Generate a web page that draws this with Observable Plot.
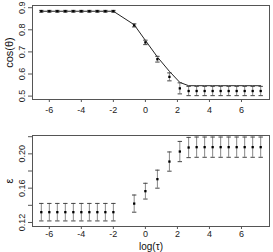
<!DOCTYPE html>
<html>
<head>
<meta charset="utf-8">
<script src="https://cdn.jsdelivr.net/npm/d3@7"></script>
<script src="https://cdn.jsdelivr.net/npm/@observablehq/plot@0.6"></script>
<style>
  html, body { margin: 0; padding: 0; background: #fff; }
  #top, #bottom { width: 273px; height: 126px; }
  svg { display: block; }
</style>
</head>
<body>
<div id="top"></div>
<div id="bottom"></div>
<script>
// log(τ) positions of the estimates
const logTau = [-6.5, -6, -5.5, -5, -4.5, -4, -3.5, -3, -2.5, -2,
  -0.7, 0, 0.75, 1.5, 2.15, 2.7, 3.2, 3.7, 4.2, 4.7, 5.2, 5.7, 6.2, 6.7, 7.2];

// cos(θ): estimate, error half-width, fitted curve
const cosMean = [0.884, 0.884, 0.884, 0.884, 0.884, 0.884, 0.884, 0.884, 0.884, 0.884,
  0.820, 0.743, 0.667, 0.587, 0.535, 0.523, 0.523, 0.523, 0.523, 0.523, 0.523, 0.523, 0.523, 0.523, 0.523];
const cosErr = [0.004, 0.004, 0.004, 0.004, 0.004, 0.004, 0.004, 0.004, 0.004, 0.004,
  0.007, 0.010, 0.013, 0.018, 0.025, 0.021, 0.021, 0.021, 0.021, 0.021, 0.021, 0.021, 0.021, 0.021, 0.021];
const cosFit = [0.884, 0.884, 0.884, 0.884, 0.884, 0.884, 0.884, 0.884, 0.884, 0.884,
  0.823, 0.752, 0.677, 0.612, 0.562, 0.547, 0.547, 0.547, 0.547, 0.547, 0.547, 0.547, 0.547, 0.547, 0.547];

// ε: estimate and error half-width
const epsMean = [0.132, 0.132, 0.132, 0.132, 0.132, 0.132, 0.132, 0.132, 0.132, 0.132,
  0.142, 0.1565, 0.1705, 0.191, 0.2027, 0.2074, 0.2078, 0.2078, 0.2078, 0.2078, 0.2078, 0.2078, 0.2078, 0.2078, 0.2078];
const epsErr = [0.0102, 0.0102, 0.0102, 0.0102, 0.0102, 0.0102, 0.0102, 0.0102, 0.0102, 0.0102,
  0.0100, 0.0092, 0.0105, 0.0112, 0.0118, 0.0118, 0.0118, 0.0118, 0.0118, 0.0118, 0.0118, 0.0118, 0.0118, 0.0118, 0.0118];

const xTicks = [-6, -4, -2, 0, 2, 4, 6];
const cosTicks = [0.5, 0.6, 0.7, 0.8, 0.9];
const epsTicks = [0.12, 0.14, 0.16, 0.18, 0.20, 0.22];
const epsLabels = [0.12, 0.16, 0.20];

const FONT = "Liberation Sans, Arial, Helvetica, sans-serif";
const xDomain = [-7.05, 7.75];

// horizontal cap drawn at each end of an error bar
const cap = {
  draw(context, size) {
    const r = Math.sqrt(size / Math.PI);
    context.moveTo(-r, 0);
    context.lineTo(r, 0);
  }
};

function rows(mean, err, fit) {
  return logTau.map((x, i) => ({
    x, y: mean[i], lo: mean[i] - err[i], hi: mean[i] + err[i], fit: fit ? fit[i] : null
  }));
}

function panel({data, yDomain, yTicks, yLabels, yFormat, yTitle, marginTop, marginBottom, curve, xTitle, tickPadding}) {
  return Plot.plot({
    width: 273,
    height: 126,
    marginLeft: 32,
    marginRight: 4,
    marginTop,
    marginBottom,
    style: {fontFamily: FONT, background: "#fff", overflow: "visible"},
    x: {domain: xDomain, ticks: xTicks},
    y: {domain: yDomain},
    marks: [
      Plot.frame({stroke: "#555", strokeWidth: 1}),
      Plot.axisX(xTicks, {tickSize: 3, tickPadding, tickFormat: d => String(d), fontSize: 9, label: null, stroke: "#555", fill: "#222"}),
      Plot.axisY(yTicks, {tickSize: 4, tickFormat: () => "", label: null, stroke: "#555"}),
      Plot.text(yLabels, {
        x: xDomain[0], y: d => d, text: d => yFormat(d),
        rotate: -90, dx: -10, fontSize: 9, fill: "#222", textAnchor: "middle", lineAnchor: "middle"
      }),
      Plot.text([yTitle], {frameAnchor: "left", dx: -23, rotate: -90, fontSize: 11, fill: "#111", textAnchor: "middle", lineAnchor: "middle"}),
      xTitle ? Plot.text([xTitle], {frameAnchor: "bottom", dy: 20.3, fontSize: 10, fill: "#111", textAnchor: "middle", lineAnchor: "middle"}) : null,
      curve ? Plot.line(data, {x: "x", y: "fit", stroke: "#222", strokeWidth: 1}) : null,
      Plot.ruleX(data, {x: "x", y1: "lo", y2: "hi", stroke: "#888", strokeWidth: 1}),
      Plot.dot(data, {x: "x", y: "lo", symbol: cap, r: 2.2, stroke: "#444", strokeWidth: 1}),
      Plot.dot(data, {x: "x", y: "hi", symbol: cap, r: 2.2, stroke: "#444", strokeWidth: 1}),
      Plot.dot(data, {x: "x", y: "y", symbol: "square", r: 1.3, fill: "#000", stroke: null})
    ]
  });
}

document.getElementById("top").append(panel({
  data: rows(cosMean, cosErr, cosFit),
  yDomain: [0.4846, 0.910],
  yTicks: cosTicks,
  yLabels: cosTicks,
  yFormat: d => d.toFixed(1),
  yTitle: "cos(θ)",
  marginTop: 5,
  marginBottom: 27,
  curve: true,
  tickPadding: 4
}));

document.getElementById("bottom").append(panel({
  data: rows(epsMean, epsErr, null),
  yDomain: [0.1153, 0.2214],
  yTicks: epsTicks,
  yLabels: epsLabels,
  yFormat: d => d.toFixed(2),
  yTitle: "ε",
  marginTop: 9,
  marginBottom: 26,
  curve: false,
  xTitle: "log(τ)",
  tickPadding: 1
}));
</script>
</body>
</html>
